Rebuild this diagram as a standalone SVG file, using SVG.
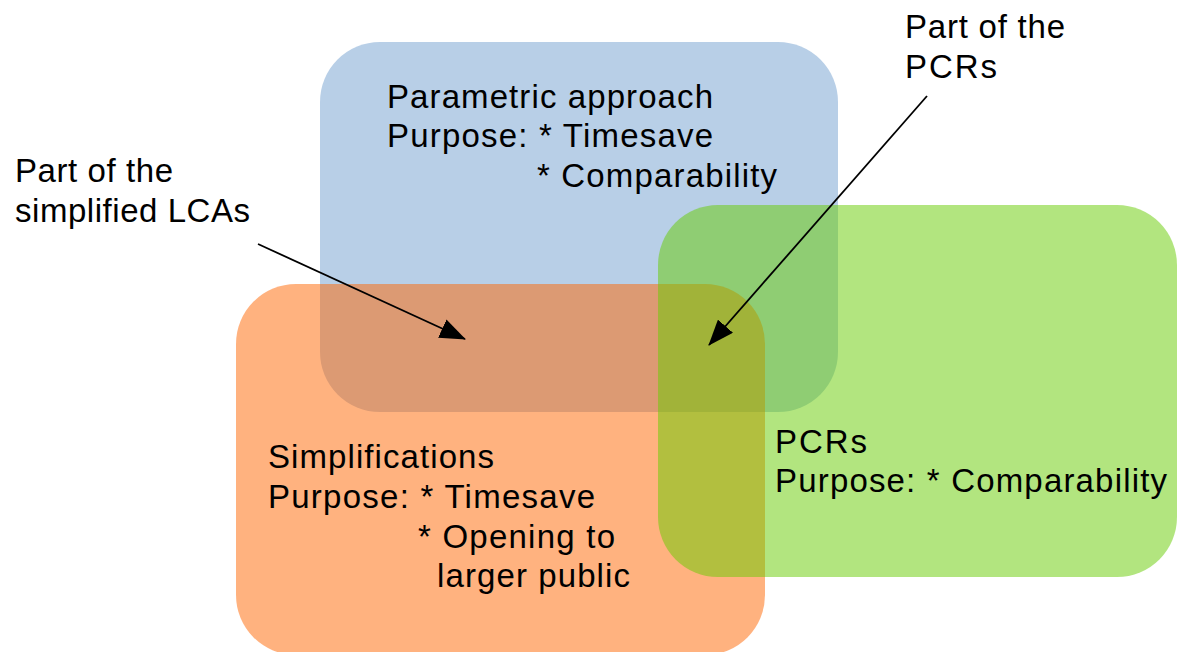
<svg xmlns="http://www.w3.org/2000/svg" width="1177" height="652" viewBox="0 0 1177 652">
<style>
text { font-family: "Liberation Sans", Arial, sans-serif; font-size: 33px; fill: #000; }
.box { fill-opacity: 0.5; stroke: none; }
.conn { stroke: #000; stroke-width: 1.8; fill: none; marker-end: url(#arr); }
</style>
<defs>
<marker id="arr" viewBox="0 0 26 20" refX="25" refY="10" markerWidth="26" markerHeight="20" markerUnits="userSpaceOnUse" orient="auto">
<path d="M0,0 L26,10 L0,20 z" fill="#000"/>
</marker>
</defs>
<rect width="1177" height="652" fill="#fff"/>
<g id="parametric">
<rect class="box" x="320" y="42" width="518" height="370" rx="60" ry="60" fill="#729fcf"/>
</g>
<g id="simplifications">
<rect class="box" x="236" y="284" width="529" height="371" rx="60" ry="60" fill="#ff6600"/>
</g>
<g id="pcrs">
<rect class="box" x="658" y="205" width="519" height="372" rx="60" ry="60" fill="#66cc00"/>
</g>
<g id="parametric-text">
<text x="387" y="108" textLength="326" lengthAdjust="spacing">Parametric approach</text>
<text x="387" y="147" textLength="326" lengthAdjust="spacing">Purpose: * Timesave</text>
<text x="537" y="186.5" textLength="240" lengthAdjust="spacing">* Comparability</text>
</g>
<g id="simplifications-text">
<text x="268" y="468" textLength="226" lengthAdjust="spacing">Simplifications</text>
<text x="268" y="508" textLength="327" lengthAdjust="spacing">Purpose: * Timesave</text>
<text x="418" y="548" textLength="197" lengthAdjust="spacing">* Opening to</text>
<text x="437" y="587" textLength="193" lengthAdjust="spacing">larger public</text>
</g>
<g id="pcrs-text">
<text x="775" y="453" textLength="92" lengthAdjust="spacing">PCRs</text>
<text x="775" y="492" textLength="392" lengthAdjust="spacing">Purpose: * Comparability</text>
</g>
<g id="label-lca">
<text x="15" y="181.5" textLength="158" lengthAdjust="spacing">Part of the</text>
<text x="15" y="221.5" textLength="235" lengthAdjust="spacing">simplified LCAs</text>
</g>
<g id="label-pcr">
<text x="905" y="38" textLength="160" lengthAdjust="spacing">Part of the</text>
<text x="905" y="78" textLength="92" lengthAdjust="spacing">PCRs</text>
</g>
<g id="connectors">
<line class="conn" x1="258" y1="244" x2="465" y2="339"/>
<line class="conn" x1="927" y1="96" x2="709" y2="345"/>
</g>
</svg>
